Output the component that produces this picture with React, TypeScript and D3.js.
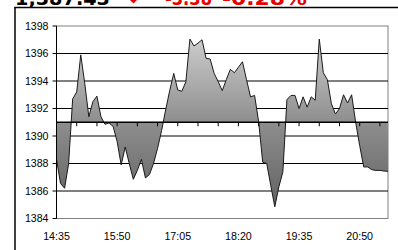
import React from "react";
import * as d3 from "d3";

// Index values every 5 minutes from 14:35 to 21:25
const values: number[] = [
  1388.3, 1386.55, 1386.2, 1388.0, 1392.7, 1393.2, 1395.9, 1393.8, 1391.4, 1392.5,
  1392.9, 1391.4, 1390.85, 1390.95, 1390.7, 1389.6, 1387.9, 1389.2, 1388.0, 1386.85,
  1387.5, 1388.3, 1386.95, 1387.2, 1388.0, 1389.1, 1390.4, 1391.9, 1393.3, 1394.55,
  1393.35, 1393.25, 1393.95, 1397.05, 1396.55, 1396.75, 1397.0, 1395.65, 1395.6, 1394.55,
  1393.95, 1393.3, 1394.1, 1394.85, 1394.6, 1395.0, 1395.4, 1394.1, 1392.85, 1392.95,
  1391.05, 1388.1, 1388.0, 1386.4, 1384.85, 1386.3, 1387.4, 1392.65, 1392.95, 1392.95,
  1392.0, 1392.85, 1392.1, 1392.85, 1392.6, 1397.05, 1394.6, 1394.1, 1392.35, 1391.6,
  1392.0, 1393.0, 1392.4, 1393.0, 1391.0, 1389.3, 1387.75, 1387.75, 1387.55, 1387.5,
  1387.5, 1387.45, 1387.43,
];
const yTicks: number[] = [1384, 1386, 1388, 1390, 1392, 1394, 1396, 1398];
const xTickLabels: string[] = ["14:35", "15:50", "17:05", "18:20", "19:35", "20:50"];
const prevClose = 1391;
const titleValue = "1,387.43";
const titleChange = "-3.38";
const titlePct = "-0.28%";

export default function App() {
  const W = 398;
  const H = 250;
  const left = 56.5;
  const right = 388;
  const top = 26;
  const bottom = 218.5;

  const x = d3.scaleLinear().domain([0, values.length - 1]).range([left, right]);
  const y = d3.scaleLinear().domain([1384, 1398]).range([bottom, top]);
  const base = y(prevClose);

  const area = d3
    .area<number>()
    .x((_, i) => x(i))
    .y0(base)
    .y1((d) => y(d));
  const line = d3
    .line<number>()
    .x((_, i) => x(i))
    .y((d) => y(d));

  const minorTicks = d3.range(5, values.length - 1, 5);
  const labelIdx = xTickLabels.map((_, k) => k * 15);

  const font = "'Liberation Sans', Arial, sans-serif";
  const titleFont = "'DejaVu Sans', Verdana, sans-serif";
  const red = "#e60000";

  return (
    <svg
      width={W}
      height={H}
      style={{ position: "fixed", left: 0, top: 0, background: "#fff" }}
    >
      <defs>
        <linearGradient id="fillGrad" gradientUnits="userSpaceOnUse" x1={0} y1={top} x2={0} y2={bottom}>
          <stop offset="0" stopColor="#d6d6d6" />
          <stop offset="0.5" stopColor="#8e8e8e" />
          <stop offset="1" stopColor="#5c5c5c" />
        </linearGradient>
      </defs>

      {/* title */}
      <text x={15} y={5} fontFamily={titleFont} fontWeight="bold" fontSize={19} fill="#000" textLength={95} lengthAdjust="spacingAndGlyphs">
        {titleValue}
      </text>
      <polygon points="126.5,-3.5 140.5,-3.5 133.5,3.5" fill={red} />
      <text x={165} y={5} fontFamily={titleFont} fontWeight="bold" fontSize={19} fill={red} textLength={47} lengthAdjust="spacingAndGlyphs">
        {titleChange}
      </text>
      <text x={222} y={5} fontFamily={titleFont} fontWeight="bold" fontSize={19} fill={red} textLength={85} lengthAdjust="spacingAndGlyphs">
        {titlePct}
      </text>

      {/* outer frame */}
      <line x1={14.5} x2={W} y1={7.5} y2={7.5} stroke="#000" strokeWidth={1.5} />
      <line x1={15} x2={15} y1={7} y2={H} stroke="#000" strokeWidth={1.5} />

      {/* plot border */}
      <rect x={left} y={top} width={right - left} height={bottom - top} fill="none" stroke="#808080" strokeWidth={1} />

      {/* gridlines */}
      {yTicks
        .filter((v) => v !== 1384 && v !== 1398)
        .map((v) => (
          <line key={v} x1={left} x2={right} y1={y(v)} y2={y(v)} stroke="#000" strokeWidth={1} />
        ))}

      {/* area + line */}
      <path d={area(values) || ""} fill="url(#fillGrad)" stroke="none" />
      <path d={line(values) || ""} fill="none" stroke="#1a1a1a" strokeWidth={1} />

      {/* category axis at previous close */}
      <line x1={left} x2={right} y1={base} y2={base} stroke="#000" strokeWidth={1.5} />
      {minorTicks.map((i) => (
        <line key={i} x1={x(i)} x2={x(i)} y1={base} y2={base + 4} stroke="#000" strokeWidth={1} />
      ))}

      {/* value axis */}
      <line x1={left} x2={left} y1={top} y2={bottom} stroke="#000" strokeWidth={1} />
      {yTicks.map((v) => (
        <g key={v}>
          <line x1={left - 4} x2={left} y1={y(v)} y2={y(v)} stroke="#000" strokeWidth={1} />
          <text x={48.5} y={y(v)} dy="0.35em" textAnchor="end" fontFamily={font} fontSize={10.6} fill="#000">
            {v}
          </text>
        </g>
      ))}

      {/* x labels */}
      {labelIdx.map((i, k) => (
        <text key={k} x={x(i)} y={239.5} textAnchor="middle" fontFamily={font} fontSize={10.7} fill="#000">
          {xTickLabels[k]}
        </text>
      ))}
    </svg>
  );
}
